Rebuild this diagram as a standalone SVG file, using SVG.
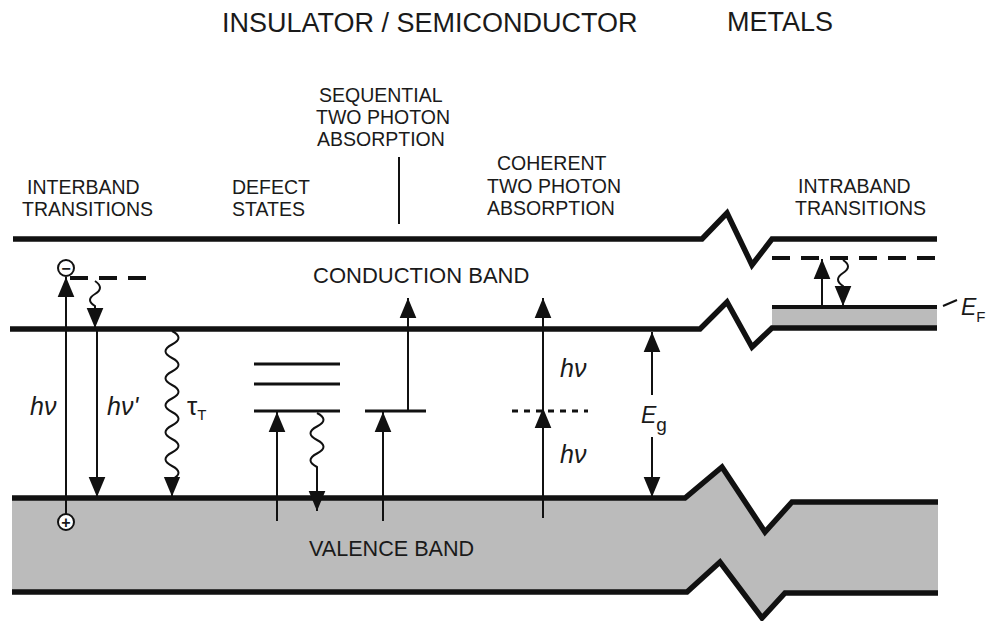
<svg xmlns="http://www.w3.org/2000/svg" width="991" height="621" viewBox="0 0 991 621">
<style>
text{font-family:"Liberation Sans",Arial,sans-serif;fill:#1a1a1a}
.title{font-size:27px}
.lbl{font-size:19.5px}
.band{font-size:22px}
.sym{font-size:25px;font-style:italic}
.up{font-style:normal}
.thick{fill:none;stroke:#111;stroke-width:5.5;stroke-linejoin:miter}
.lvl{fill:none;stroke:#111;stroke-width:3}
.arr{fill:none;stroke:#111;stroke-width:2;marker-end:url(#ah)}
.thin{fill:none;stroke:#111;stroke-width:2}
.dash{fill:none;stroke:#111;stroke-width:4;stroke-dasharray:18 11}
.dot{fill:none;stroke:#111;stroke-width:3;stroke-dasharray:6 6}
</style>
<defs>
<marker id="ah" markerUnits="userSpaceOnUse" markerWidth="20" markerHeight="20" viewBox="0 -8 18 16" refX="18" refY="0" orient="auto">
<path d="M0,-7.5 L18,0 L0,7.5 Z" fill="#111"/>
</marker>
</defs>
<rect width="991" height="621" fill="#fff"/>

<g id="bands">
<path d="M12,498 H685 L722,467 L765,532 L792,502 H938 V593 H785 L762,618 L720,562 L687,592 H12 Z" fill="#bbbbbb"/>
<rect x="772" y="307" width="165" height="21" fill="#bbbbbb"/>
<path class="thick" d="M13,239 H702 L727,213 L752,265 L772,239 H937"/>
<path class="thick" d="M10,329 H700 L727,302 L752,347 L772,328 H937"/>
<path class="thick" d="M12,498 H685 L722,467 L765,532 L792,502 H938"/>
<path class="thick" d="M12,592 H687 L720,562 L762,618 L785,593 H938"/>
<line class="lvl" x1="772" y1="307" x2="937" y2="307" style="stroke-width:4"/>
<line class="dash" x1="772" y1="258" x2="937" y2="258"/>
</g>

<g id="titles">
<text class="title" x="222" y="32">INSULATOR / SEMICONDUCTOR</text>
<text class="title" x="727" y="31">METALS</text>
</g>

<g id="interband">
<text class="lbl" x="27" y="194">INTERBAND</text>
<text class="lbl" x="22" y="216">TRANSITIONS</text>
<circle cx="66" cy="268" r="8" fill="#fff" stroke="#111" stroke-width="2"/>
<text x="66" y="274" text-anchor="middle" style="font-size:16px;font-weight:bold">−</text>
<circle cx="66" cy="522" r="8" fill="#fff" stroke="#111" stroke-width="2"/>
<text x="66" y="528" text-anchor="middle" style="font-size:16px;font-weight:bold">+</text>
<line class="dash" x1="70" y1="278" x2="147" y2="278"/>
<text class="sym" x="30" y="415">hν</text>
<text class="sym" x="107" y="415">hν'</text>
<text class="sym up" x="187" y="415" style="font-size:26px">τ<tspan style="font-size:15px" dy="5">T</tspan></text>
</g>

<g id="defect">
<text class="lbl" x="232" y="194">DEFECT</text>
<text class="lbl" x="232" y="216">STATES</text>
<line class="lvl" x1="254" y1="364" x2="340" y2="364"/>
<line class="lvl" x1="254" y1="384" x2="340" y2="384"/>
<line class="lvl" x1="254" y1="411" x2="340" y2="411"/>
</g>

<g id="sequential">
<text class="lbl" x="319" y="102">SEQUENTIAL</text>
<text class="lbl" x="316" y="124">TWO PHOTON</text>
<text class="lbl" x="317" y="146">ABSORPTION</text>
<line class="thin" x1="399" y1="157" x2="399" y2="224"/>
<line class="lvl" x1="365" y1="411" x2="426" y2="411"/>
</g>

<g id="coherent">
<text class="lbl" x="497" y="170">COHERENT</text>
<text class="lbl" x="487" y="193">TWO PHOTON</text>
<text class="lbl" x="487" y="215">ABSORPTION</text>
<line class="dot" x1="512" y1="411" x2="588" y2="411"/>
<text class="sym" x="560" y="377">hν</text>
<text class="sym" x="560" y="463">hν</text>
</g>

<g id="gap">
<text class="sym" x="641" y="423" style="font-size:23px">E<tspan class="up" style="font-size:19px" dy="8">g</tspan></text>
</g>

<g id="bandlabels">
<text class="band" x="313" y="283">CONDUCTION BAND</text>
<text class="band" x="309" y="556" style="font-size:21.6px">VALENCE BAND</text>
</g>

<g id="intraband">
<text class="lbl" x="798" y="193">INTRABAND</text>
<text class="lbl" x="795" y="215">TRANSITIONS</text>
<line class="thin" x1="943" y1="306" x2="957" y2="300"/>
<text class="sym" x="961" y="315" style="font-size:23px">E<tspan class="up" style="font-size:15px" dy="7">F</tspan></text>
</g>

<g id="connectors">
<!-- interband -->
<path class="arr" d="M66,514 V277"/>
<path class="arr" d="M95,281 q10,7 0,13 t0,12 v22"/>
<path class="arr" d="M97,329 V497"/>
<path class="arr" d="M172,331 q13,6.75 0,13.5 t0,13.5 t0,13.5 t0,13.5 t0,13.5 t0,13.5 t0,13.5 t0,13.5 t0,13.5 t0,13.5 t0,13.5 v17"/>
<!-- defect -->
<path class="arr" d="M277,521 V412"/>
<path class="arr" d="M317,413 q13,6.75 0,13.5 t0,13.5 t0,13.5 t0,13.5 v44"/>
<!-- sequential -->
<path class="arr" d="M383,521 V412"/>
<path class="arr" d="M408,411 V298"/>
<!-- coherent -->
<path class="arr" d="M543,518 V408"/>
<path class="arr" d="M543,408 V298"/>
<!-- band gap -->
<path class="arr" d="M652,395 V332"/>
<path class="arr" d="M652,437 V497"/>
<!-- intraband -->
<path class="arr" d="M822,307 V259"/>
<path class="arr" d="M843,260 q10,6.5 0,13 t0,13 v20"/>
</g>
</svg>
